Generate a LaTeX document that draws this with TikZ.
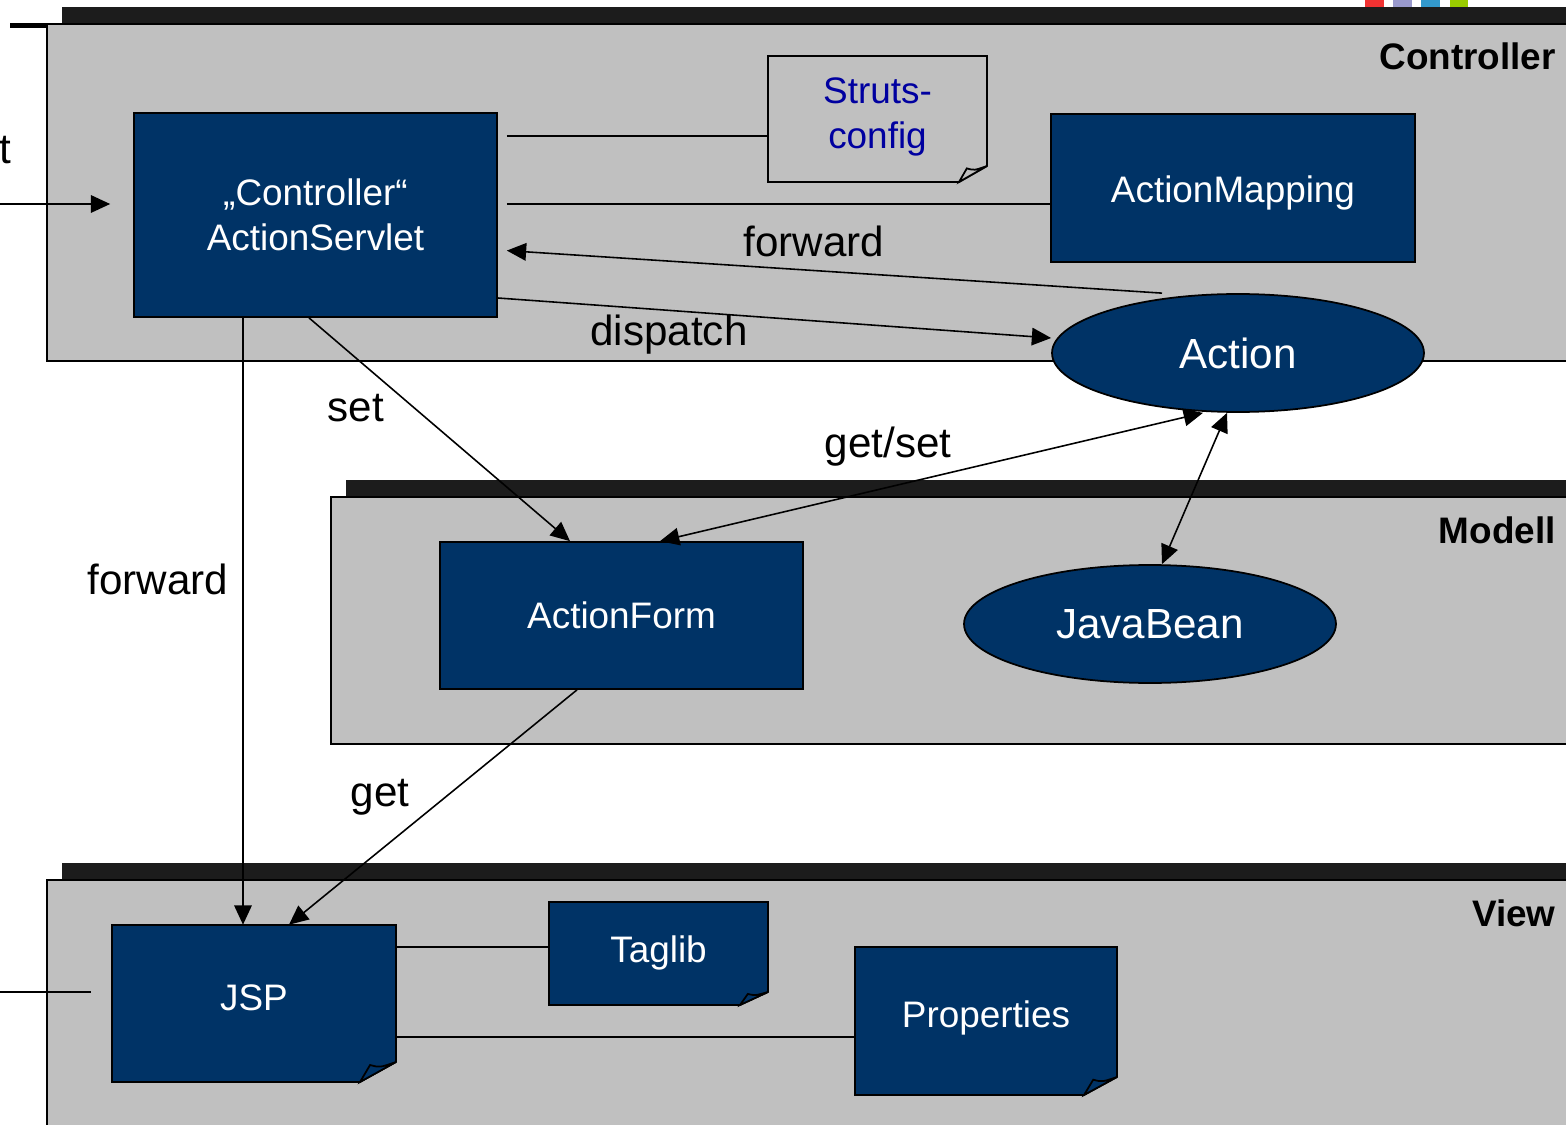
\documentclass[tikz,border=0pt]{standalone}
\usepackage{fontspec}
\setmainfont{Liberation Sans}
\usetikzlibrary{arrows.meta,shapes.geometric,calc}
\definecolor{navy}{RGB}{0,51,102}
\definecolor{panelgray}{RGB}{192,192,192}
\definecolor{barblack}{RGB}{28,28,28}
\definecolor{cfgblue}{RGB}{0,0,160}
\definecolor{sqred}{RGB}{240,50,50}
\definecolor{sqlav}{RGB}{153,153,204}
\definecolor{sqblue}{RGB}{51,153,204}
\definecolor{sqgreen}{RGB}{153,204,0}
\newcommand\notefold[7]{%
  \filldraw[fill=#7, notebody] (#1,#2) -- (#3,#2) -- (#3,#4-#6) -- (#3-#5,#4) -- (#1,#4) -- cycle;
  \filldraw[fill=#7, notebody] (#3-#5,#4) -- (#3-0.72*#5,#4-0.85*#6) .. controls (#3-0.45*#5,#4-0.72*#6) .. (#3,#4-#6) -- cycle;
}
\newcommand\shiftup[2]{\raisebox{#1}[\height][\depth]{#2}}
\begin{document}
\begin{tikzpicture}[x=0.02cm,y=-0.02cm,
  panel/.style={fill=panelgray, draw=black, line width=1pt},
  box/.style={rectangle, fill=navy, draw=black, line width=1pt, text=white, inner sep=0pt, font=\fontsize{21}{25.5}\selectfont, align=center},
  notetext/.style={rectangle, draw=none, fill=none, inner sep=0pt, font=\fontsize{21}{25.5}\selectfont, align=center},
  ell/.style={ellipse, fill=navy, draw=black, line width=1pt, text=white, inner sep=0pt, font=\fontsize{24}{28}\selectfont},
  notebody/.style={draw=black, line width=1pt, line join=miter},
  lbl/.style={font=\fontsize{24}{28}\selectfont, anchor=base, inner sep=0pt},
  ttl/.style={font=\fontsize{21}{25}\selectfont\bfseries, anchor=base east, inner sep=0pt},
  conn/.style={draw=black, line width=0.9pt},
  arr/.style={conn, -{Triangle[length=11pt,width=10pt]}},
  darr/.style={conn, {Triangle[length=11pt,width=10pt]}-{Triangle[length=11pt,width=10pt]}},
]
\clip (0,0) rectangle (1566,1125);
\fill[white] (0,0) rectangle (1566,1125);

% colour squares
\fill[sqred] (1365,0) rectangle (1384,7);
\fill[sqlav] (1393,0) rectangle (1412,7);
\fill[sqblue] (1421,0) rectangle (1440,7);
\fill[sqgreen] (1450,0) rectangle (1468,7);

% Controller panel
\fill[barblack] (62,7) rectangle (1600,24);
\draw[panel] (47,24) rectangle (1600,361);
\draw[line width=2.8pt] (10,25.5) -- (47,25.5);
\node[ttl] (tctrl) at (1556,70) {Controller};

% Modell panel
\fill[barblack] (346,480) rectangle (1600,497);
\draw[panel] (331,497) rectangle (1600,744);
\node[ttl] (tmod) at (1556,543) {Modell};

% View panel
\fill[barblack] (62,863) rectangle (1600,880);
\draw[panel] (47,880) rectangle (1600,1160);
\node[ttl] (tview) at (1556,926) {View};

% Controller nodes
\node[box, minimum width=7.26cm, minimum height=4.08cm] (servlet) at (315.5,215) {„Controller“\\ActionServlet};
\notefold{768}{56}{987}{182}{28}{16}{panelgray}
\node[notetext, text=cfgblue, minimum width=4.38cm, minimum height=2.52cm] (struts) at (877.5,119) {\shiftup{1.2pt}{\begin{tabular}{@{}c@{}}Struts-\\config\end{tabular}}};
\node[box, minimum width=7.28cm, minimum height=2.96cm] (mapping) at (1233,188) {\shiftup{-2.8pt}{ActionMapping}};
\node[ell, minimum width=7.44cm, minimum height=2.36cm] (action) at (1238,353) {Action};

% Modell nodes
\node[box, minimum width=7.26cm, minimum height=2.94cm] (form) at (621.5,615.5) {ActionForm};
\node[ell, minimum width=7.44cm, minimum height=2.36cm] (bean) at (1150,624) {JavaBean};

% View nodes
\notefold{112}{925}{396}{1082}{36}{20}{navy}
\node[notetext, text=white, minimum width=5.68cm, minimum height=3.14cm] (jsp) at (254,1003.5) {\shiftup{3.2pt}{JSP}};
\notefold{549}{902}{768}{1005}{28}{13}{navy}
\node[notetext, text=white, minimum width=4.38cm, minimum height=2.06cm] (taglib) at (658.5,953.5) {\shiftup{0.5pt}{Taglib}};
\notefold{855}{947}{1117}{1095}{33}{18}{navy}
\node[notetext, text=white, minimum width=5.24cm, minimum height=2.96cm] (props) at (986,1021) {\shiftup{1.6pt}{Properties}};

% connectors
\draw[conn, shorten <=0.18cm] (servlet.east |- 0,136) -- (struts.west |- 0,136);
\draw[conn, shorten <=0.18cm] (servlet.east |- 0,204) -- (mapping.west |- 0,204);
\draw[arr, shorten >=0.18cm] (action.north -| 1162,0) -- (servlet.east |- 0,250);
\draw[arr] (servlet.east |- 0,298) -- (action.west |- 0,338);
\draw[arr] (servlet.south -| 309,0) -- (form.north -| 570,0);
\draw[darr] (form.north -| 660,0) -- (action.south -| 1203,0);
\draw[darr] (action.south -| 1227,0) -- (bean.north -| 1162,0);
\draw[arr] (servlet.south -| 243,0) -- (jsp.north -| 243,0);
\draw[arr] (form.south -| 577,0) -- (jsp.north -| 289,0);
\draw[conn] (jsp.east |- 0,947) -- (taglib.west |- 0,947);
\draw[conn] (jsp.east |- 0,1037) -- (props.west |- 0,1037);
\coordinate (inA) at (0,204);
\draw[arr, shorten >=0.46cm] (inA) -- (servlet.west |- inA);
\coordinate (inB) at (0,992);
\draw[conn, shorten >=0.42cm] (inB) -- (jsp.west |- inB);

% labels
\node[lbl] (lforward) at (814,257) {forward};
\node[lbl] (ldispatch) at (669,345) {dispatch};
\node[lbl] (lset) at (356,421) {set};
\node[lbl] (lgetset) at (888,457) {get/set};
\node[lbl] (lfwd2) at (158,594) {forward};
\node[lbl] (lget) at (380,806) {get};
\node[lbl, anchor=base east] (lt) at (12,164) {t};
\end{tikzpicture}
\end{document}
